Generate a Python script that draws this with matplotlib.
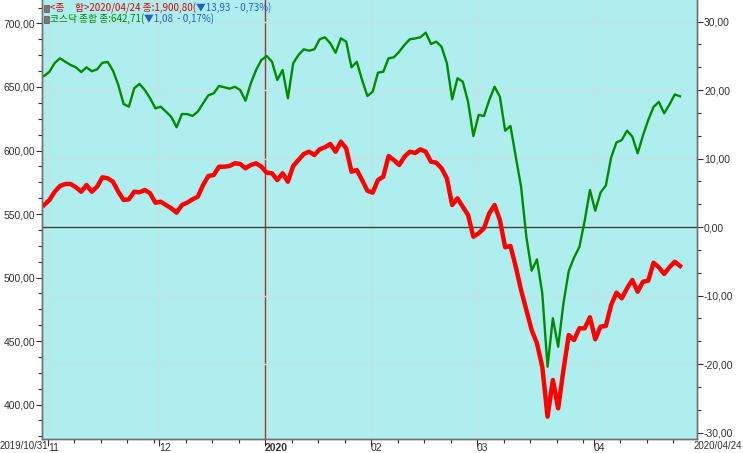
import matplotlib
matplotlib.use("Agg")
import matplotlib.pyplot as plt
from matplotlib.patches import Rectangle
from matplotlib.ticker import FixedLocator, FuncFormatter, MultipleLocator
import numpy as np

# ---------------- data ----------------
kosdaq = [658.7, 662.0, 668.9, 672.6, 669.9, 667.3, 665.5, 661.8, 665.5, 662.4,
          663.9, 669.1, 669.7, 662.8, 651.6, 636.6, 634.5, 649.0, 652.4, 647.6,
          641.1, 633.2, 634.5, 630.6, 626.4, 618.3, 628.7, 628.7, 627.2, 630.6,
          637.2, 643.5, 645.0, 650.8, 649.8, 648.7, 650.2, 647.6, 639.2, 652.9,
          663.4, 671.3, 674.4, 669.9, 655.5, 663.4, 641.1, 668.7, 675.2, 679.7,
          678.6, 679.7, 687.6, 689.1, 684.4, 677.0, 688.3, 685.7, 665.5, 669.9,
          655.5, 642.9, 646.3, 661.3, 662.0, 672.6, 673.4, 677.8, 683.1, 687.6,
          688.2, 689.1, 692.8, 683.9, 685.7, 681.7, 668.7, 640.3, 656.9, 654.2,
          638.4, 611.4, 628.0, 627.2, 639.8, 650.2, 642.4, 615.6, 619.3, 595.1,
          571.5, 531.9, 505.4, 514.3, 487.6, 429.8, 467.9, 445.5, 479.7, 505.1,
          515.7, 524.0, 544.5, 568.9, 552.6, 566.9, 572.4, 594.5, 606.3, 608.3,
          615.6, 610.9, 597.8, 611.8, 624.0, 634.3, 638.2, 629.3, 636.2, 644.1,
          642.7]

kospi_pct = [3.21, 3.94, 5.15, 5.99, 6.28, 6.28, 5.80, 5.15, 6.13, 5.15,
             5.88, 7.26, 7.11, 6.61, 5.15, 3.94, 4.04, 5.15, 5.07, 5.40,
             4.92, 3.55, 3.69, 3.21, 2.73, 2.09, 3.21, 3.55, 4.04, 4.42,
             6.13, 7.45, 7.59, 8.80, 8.80, 8.91, 9.30, 9.20, 8.57, 9.05,
             9.30, 8.80, 7.93, 7.84, 6.86, 7.84, 6.61, 8.91, 9.78, 10.66,
             10.99, 10.51, 11.34, 11.64, 12.12, 10.99, 12.45, 11.49, 8.07, 8.32,
             6.86, 5.30, 5.01, 6.86, 7.34, 10.36, 9.78, 9.05, 10.26, 10.99,
             10.80, 11.34, 10.99, 9.53, 9.39, 8.57, 7.11, 3.21, 4.19, 2.96,
             1.75, -1.42, -0.92, -0.19, 2.00, 3.21, 1.02, -2.96, -2.77, -5.80,
             -9.20, -12.12, -15.04, -16.98, -20.39, -27.69, -22.34, -26.47, -20.88, -15.77,
             -16.50, -14.79, -14.79, -13.18, -16.39, -14.55, -14.45, -11.39, -9.59, -10.41,
             -8.95, -7.74, -9.45, -7.99, -7.84, -5.21, -5.88, -6.86, -5.88, -5.07,
             -5.69]

month_labels = ['11', '12', '2020', '02', '03', '04']
month_start_idx = [1, 22, 42, 62, 82, 104]
start_label = '2019/10/31'
end_label = '2020/04/24'

legend_line1 = [("<종     합>2020/04/24 종:1,900,80(", '#e00000'),
                ("▼13,93  - 0,73%)", '#1f5fc8')]
legend_line2 = [("코스닥 종합 종:642,71(", '#008c00'),
                ("▼1,08  - 0,17%)", '#1f5fc8')]

# ---------------- figure ----------------
W, H = 743, 453
fig = plt.figure(figsize=(W / 100, H / 100), dpi=100)
fig.patch.set_facecolor('white')

ax_l, ax_r, ax_t, ax_b = 42, 697, 0, 439
ax2 = fig.add_axes([ax_l / W, (H - ax_b) / H, (ax_r - ax_l) / W, (ax_b - ax_t) / H])
ax2.set_facecolor('#AFEEEE')
ax2.yaxis.tick_right()
ax2.yaxis.set_label_position('right')
ax = fig.add_axes(ax2.get_position(), sharex=ax2)
ax.patch.set_visible(False)

tick_font = ['Liberation Sans', 'DejaVu Sans']
cjk_font = ['Noto Sans CJK KR', 'DejaVu Sans']

x = np.arange(len(kosdaq))
ax2.set_xlim(-0.4, 123.2)
# left axis: 0.7874 units per pixel (650 at pixel row 87); right axis: 6.85 px per 1 (0 at row 227)
ax.set_ylim(650 - (ax_b - 87) * 0.7874, 650 + 87 * 0.7874)
ax2.set_ylim((227 - ax_b) / 6.85, 227 / 6.85)

tick_pos = [p - 0.3 for p in month_start_idx]

# grid (on background axis)
for p, lab in zip(tick_pos, month_labels):
    if lab == '2020':
        ax2.axvline(p, color='#b03030', lw=1.0, zorder=1)
    else:
        ax2.axvline(p, color='#c6e2e2', lw=1.0, zorder=1)
for g in [30, 20, 10, -10, -20]:
    ax2.axhline(g, color='#c6e2e2', lw=1.0, zorder=1)
ax2.axhline(0, color='#404040', lw=1.0, zorder=2)

ax2.plot(x, kospi_pct, color='#ff0000', lw=3.2, zorder=3, solid_joinstyle='round')
ax.plot(x, kosdaq, color='#008c00', lw=1.7, zorder=3)

# spines
for a in (ax, ax2):
    a.spines['top'].set_visible(False)
    for s in ('left', 'right', 'bottom'):
        a.spines[s].set_color('#707070')
        a.spines[s].set_linewidth(1.0)

fmt = FuncFormatter(lambda v, p: f"{v:.2f}".replace('.', ','))

# left axis ticks
ax.yaxis.tick_left()
ax.yaxis.set_major_locator(MultipleLocator(50))
ax.yaxis.set_minor_locator(MultipleLocator(12.5))
ax.yaxis.set_major_formatter(fmt)
ax.tick_params(axis='y', which='major', direction='out', length=4, width=0.8,
               colors='#303030', labelsize=7.5, pad=1)
ax.tick_params(axis='y', which='minor', direction='out', length=3, width=0.8, colors='#303030')

# right axis ticks
ax2.yaxis.set_major_locator(MultipleLocator(10))
ax2.yaxis.set_minor_locator(MultipleLocator(10 / 3))
ax2.yaxis.set_major_formatter(fmt)
ax2.tick_params(axis='y', which='major', direction='out', length=4, width=0.8,
                colors='#303030', labelsize=7.5, pad=1)
ax2.tick_params(axis='y', which='minor', direction='out', length=3, width=0.8, colors='#303030')

# x axis ticks (on background axis)
ax.tick_params(axis='x', which='both', length=0, labelbottom=False)
ax2.set_xticks(tick_pos)
ax2.set_xticklabels(month_labels)
minor = []
bounds = month_start_idx + [121]
for i in range(len(month_start_idx)):
    s, e = bounds[i], bounds[i + 1]
    minor += [s + k - 0.3 for k in range(5, e - s, 5)]
ax2.xaxis.set_minor_locator(FixedLocator(minor))
ax2.tick_params(axis='x', which='major', direction='out', length=5, width=0.8,
                colors='#303030', labelsize=7.5, pad=-2)
ax2.tick_params(axis='x', which='minor', direction='out', length=3, width=0.8, colors='#303030')
for lab in ax2.get_xticklabels():
    lab.set_horizontalalignment('left')
    lab.set_fontfamily(tick_font)
    if lab.get_text() == '2020':
        lab.set_fontweight('bold')
for lab in ax.get_yticklabels() + ax2.get_yticklabels():
    lab.set_fontfamily(tick_font)

fig.text(0 / W, 1 - 446 / H, start_label, fontsize=7, family=tick_font,
         color='#303030', va='center', ha='left')
fig.text(742 / W, 1 - 446 / H, end_label, fontsize=7, family=tick_font,
         color='#303030', va='center', ha='right')

# legend lines
renderer = fig.canvas.get_renderer()
for ypix, parts in ((8, legend_line1), (19, legend_line2)):
    fig.patches.append(Rectangle((44 / W, 1 - (ypix + 3.5) / H), 5 / W, 7 / H,
                                 transform=fig.transFigure, facecolor='#777777',
                                 edgecolor='#555555', lw=0.5, figure=fig))
    xp = 50
    for txt, col in parts:
        t = fig.text(xp / W, 1 - ypix / H, txt, color=col, fontsize=7,
                     family=cjk_font, va='center', ha='left')
        bb = t.get_window_extent(renderer)
        xp += bb.width

fig.savefig('out.png', dpi=100, facecolor='white')
